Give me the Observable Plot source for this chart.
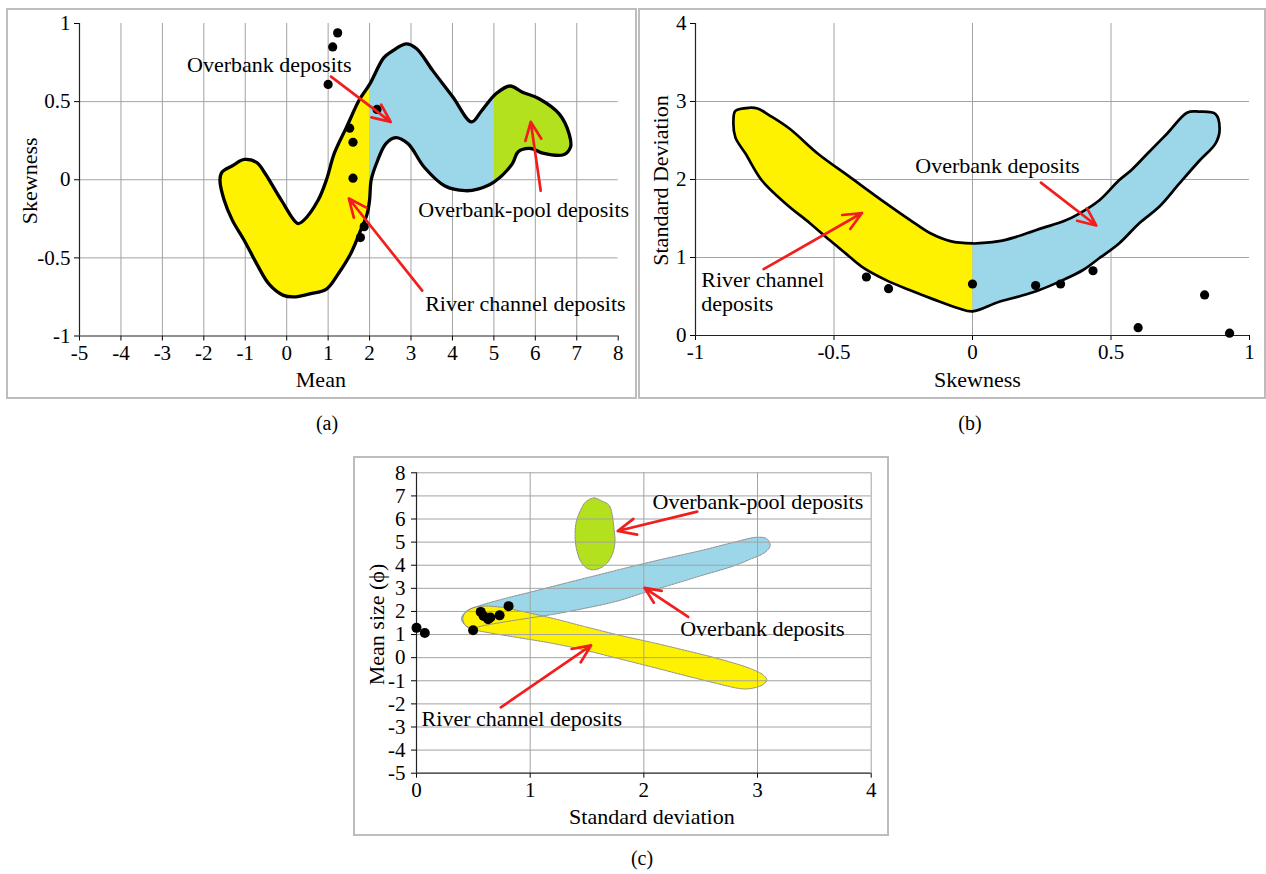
<!DOCTYPE html>
<html>
<head>
<meta charset="utf-8">
<script src="https://cdn.jsdelivr.net/npm/d3@7"></script>
<script src="https://cdn.jsdelivr.net/npm/@observablehq/plot@0.6"></script>
<style>
  body { margin: 0; background: #fff; width: 1266px; height: 874px; position: relative; overflow: hidden;
         font-family: 'Liberation Serif', 'Times New Roman', serif; color: #000; }
  .frame { position: absolute; border: 2px solid #bdbdbd; box-sizing: border-box; }
  .panel { position: absolute; }
  .caption { position: absolute; font-size: 20px; transform: translate(-50%, -50%); }
</style>
</head>
<body>
<div class="frame" style="left:6px;top:8px;width:631px;height:391px"></div>
<div class="frame" style="left:638px;top:8px;width:628px;height:391px"></div>
<div class="frame" style="left:353px;top:456px;width:536px;height:380px"></div>
<div id="pa" class="panel" style="left:0px;top:0px"></div>
<div id="pb" class="panel" style="left:638px;top:0px"></div>
<div id="pc" class="panel" style="left:352px;top:450px"></div>
<div class="caption" style="left:327px;top:423px">(a)</div>
<div class="caption" style="left:970px;top:423px">(b)</div>
<div class="caption" style="left:642px;top:858px">(c)</div>
<script>
// ---------- (a) Skewness against mean ----------
const meanTicks = [-5, -4, -3, -2, -1, 0, 1, 2, 3, 4, 5, 6, 7, 8];
const meanGrid = [-4, -3, -2, -1, 0, 1, 2, 3, 4, 5, 6, 7];
const skewTicksA = [-1, -0.5, 0, 0.5, 1];
const skewGridA = [-0.5, 0, 0.5];

// envelope of all samples, split by mean into the three depositional fields
const envelopeA = [
  [-1.61, 0.00], [-1.56, 0.05], [-1.31, 0.09], [-1.02, 0.13], [-0.72, 0.11], [-0.52, 0.04],
  [-0.13, -0.13], [0.27, -0.28], [0.41, -0.26], [0.76, -0.13], [0.96, 0.00], [1.15, 0.17],
  [1.45, 0.34], [1.75, 0.51], [2.00, 0.61], [2.34, 0.78], [2.53, 0.82], [2.88, 0.87],
  [3.13, 0.84], [3.52, 0.70], [4.01, 0.53], [4.46, 0.37], [4.70, 0.44], [5.05, 0.55],
  [5.39, 0.60], [5.69, 0.56], [6.08, 0.52], [6.58, 0.42], [6.82, 0.29], [6.85, 0.21],
  [6.68, 0.16], [6.18, 0.17], [5.89, 0.20], [5.59, 0.18], [5.44, 0.10], [5.00, -0.015],
  [4.61, -0.06], [4.31, -0.07], [3.82, -0.04], [3.32, 0.08], [2.93, 0.23], [2.63, 0.27],
  [2.39, 0.23], [2.19, 0.12], [2.04, 0.00], [2.00, -0.13], [1.94, -0.22], [1.79, -0.32],
  [1.55, -0.47], [1.25, -0.60], [0.96, -0.70], [0.56, -0.73], [0.17, -0.75], [-0.08, -0.74],
  [-0.42, -0.67], [-0.72, -0.54], [-1.02, -0.39], [-1.31, -0.26], [-1.51, -0.13]
];
const zonesA = [
  {name: "River channel deposits", from: null, to: 2, color: "#fff200"},
  {name: "Overbank deposits", from: 2, to: 5, color: "#9cd7e9"},
  {name: "Overbank-pool deposits", from: 5, to: null, color: "#b4e11e"}
];
const samplesA = [
  [1.00, 0.61], [1.11, 0.85], [1.23, 0.94], [2.18, 0.45], [1.52, 0.33],
  [1.60, 0.24], [1.60, 0.01], [1.87, -0.30], [1.78, -0.37]
];
const labelsA = [
  {label: "Overbank deposits", x: -0.42, y: 0.742},
  {label: "Overbank-pool deposits", x: 5.72, y: -0.186},
  {label: "River channel deposits", x: 5.76, y: -0.793}
];
const arrowsA = [
  {x1: 1.07, y1: 0.66, x2: 2.51, y2: 0.37},
  {x1: 3.27, y1: -0.71, x2: 1.50, y2: -0.12},
  {x1: 6.13, y1: -0.07, x2: 5.89, y2: 0.37}
];

// ---------- (b) Standard deviation against skewness ----------
const skewTicksB = [-1, -0.5, 0, 0.5, 1];
const skewGridB = [-0.5, 0, 0.5];
const sdTicksB = [0, 1, 2, 3, 4];
const sdGridB = [1, 2, 3];
const envelopeB = [
  [-0.863, 2.76], [-0.856, 2.88], [-0.805, 2.92], [-0.776, 2.91], [-0.732, 2.82], [-0.660, 2.65],
  [-0.558, 2.33], [-0.442, 2.03], [-0.326, 1.73], [-0.225, 1.48], [-0.152, 1.31], [-0.080, 1.21],
  [0.000, 1.18], [0.051, 1.19], [0.123, 1.23], [0.196, 1.31], [0.254, 1.38], [0.326, 1.46],
  [0.384, 1.56], [0.457, 1.73], [0.529, 1.99], [0.573, 2.12], [0.631, 2.33], [0.703, 2.59],
  [0.776, 2.86], [0.819, 2.87], [0.877, 2.84], [0.892, 2.63], [0.877, 2.46], [0.819, 2.24],
  [0.747, 1.95], [0.674, 1.65], [0.602, 1.44], [0.529, 1.18], [0.457, 0.99], [0.399, 0.84],
  [0.326, 0.71], [0.239, 0.58], [0.167, 0.50], [0.094, 0.43], [0.000, 0.31], [-0.051, 0.35],
  [-0.138, 0.46], [-0.225, 0.58], [-0.312, 0.71], [-0.399, 0.88], [-0.457, 1.05], [-0.515, 1.22],
  [-0.587, 1.44], [-0.674, 1.69], [-0.761, 1.99], [-0.819, 2.33], [-0.856, 2.54]
];
const zonesB = [
  {name: "River channel deposits", from: null, to: 0, color: "#fff200"},
  {name: "Overbank deposits", from: 0, to: null, color: "#9cd7e9"}
];
const samplesB = [
  [-0.383, 0.75], [-0.303, 0.60], [0.000, 0.66], [0.228, 0.64], [0.318, 0.66],
  [0.435, 0.83], [0.598, 0.10], [0.838, 0.52], [0.928, 0.03]
];
const labelsB = [
  {label: "Overbank deposits", x: 0.09, y: 2.18, anchor: "middle"},
  {label: "River channel\ndeposits", x: -0.979, y: 0.565, anchor: "start"}
];
const arrowsB = [
  {x1: 0.247, y1: 1.96, x2: 0.447, y2: 1.41},
  {x1: -0.754, y1: 0.85, x2: -0.399, y2: 1.57}
];

// ---------- (c) Mean size against standard deviation ----------
const sdTicksC = [0, 1, 2, 3, 4];
const sdGridC = [1, 2, 3, 4];
const sizeTicksC = [-5, -4, -3, -2, -1, 0, 1, 2, 3, 4, 5, 6, 7, 8];
const sizeGridC = [-4, -3, -2, -1, 0, 1, 2, 3, 4, 5, 6, 7, 8];
const poolFieldC = [
  [1.488, 6.74], [1.561, 6.91], [1.635, 6.77], [1.693, 6.60], [1.722, 6.17], [1.737, 5.60],
  [1.746, 5.03], [1.722, 4.46], [1.664, 4.03], [1.576, 3.81], [1.503, 3.86], [1.444, 4.17],
  [1.406, 4.74], [1.395, 5.31], [1.406, 5.89], [1.444, 6.39]
];
const overbankFieldC = [
  [0.396, 1.72], [0.439, 2.01], [0.542, 2.23], [0.746, 2.52], [1.038, 2.88], [1.330, 3.25],
  [1.622, 3.61], [1.914, 3.97], [2.206, 4.31], [2.498, 4.63], [2.790, 4.99], [2.994, 5.21],
  [3.082, 5.14], [3.111, 4.85], [3.067, 4.56], [2.936, 4.26], [2.790, 3.97], [2.498, 3.54],
  [2.206, 3.10], [2.001, 2.81], [1.768, 2.45], [1.476, 2.13], [1.184, 1.86], [0.892, 1.64],
  [0.600, 1.40], [0.469, 1.28], [0.410, 1.50]
];
const riverFieldC = [
  [0.410, 1.79], [0.483, 2.13], [0.600, 2.23], [0.746, 2.18], [0.892, 2.04], [1.184, 1.72],
  [1.476, 1.35], [1.768, 0.99], [2.060, 0.67], [2.352, 0.33], [2.644, -0.03], [2.936, -0.47],
  [3.053, -0.76], [3.082, -0.98], [3.038, -1.19], [2.936, -1.34], [2.848, -1.34], [2.644, -1.12],
  [2.352, -0.76], [2.060, -0.39], [1.768, -0.03], [1.476, 0.33], [1.184, 0.63], [0.892, 0.87],
  [0.658, 1.06], [0.512, 1.21], [0.425, 1.43]
];
const samplesC = [
  [0.000, 1.29], [0.073, 1.07], [0.498, 1.19], [0.565, 1.98], [0.590, 1.80],
  [0.630, 1.66], [0.650, 1.74], [0.731, 1.83], [0.810, 2.23]
];
const labelsC = [
  {label: "Overbank-pool deposits", x: 2.076, y: 6.75},
  {label: "Overbank deposits", x: 2.32, y: 1.29},
  {label: "River channel deposits", x: 0.045, y: -2.62}
];
const arrowsC = [
  {x1: 2.47, y1: 6.32, x2: 1.77, y2: 5.48},
  {x1: 2.39, y1: 1.76, x2: 2.006, y2: 3.02},
  {x1: 0.742, y1: -2.15, x2: 1.536, y2: 0.53}
];

// ---------- shared styling ----------
const serif = "'Liberation Serif', 'Times New Roman', serif";
const fmt = (d) => String(d);
const gridColor = "#a3a3a3";
const arrowColor = "#f21d1d";
const svgStyle = {fontFamily: serif, fontSize: "21px", color: "#000", background: "transparent", overflow: "visible"};
const axis = {tickFormat: fmt, tickSize: 5, tickPadding: 4, label: null};
const closed = "catmull-rom-closed";
const ns = "http://www.w3.org/2000/svg";

// one fill of the envelope, clipped to the band [from, to] of the x scale
function zoneFill(outline, zone, id) {
  return Plot.line(outline, {
    curve: closed, fill: zone.color, stroke: "none",
    render(index, scales, values, dimensions, context, next) {
      const g = next(index, scales, values, dimensions, context);
      const x0 = zone.from == null ? 0 : scales.x(zone.from);
      const x1 = zone.to == null ? dimensions.width : scales.x(zone.to);
      const cp = document.createElementNS(ns, "clipPath");
      cp.setAttribute("id", id);
      const r = document.createElementNS(ns, "rect");
      r.setAttribute("x", x0);
      r.setAttribute("y", 0);
      r.setAttribute("width", x1 - x0);
      r.setAttribute("height", dimensions.height);
      cp.appendChild(r);
      g.insertBefore(cp, g.firstChild);
      g.setAttribute("clip-path", `url(#${id})`);
      return g;
    }
  });
}
function arrows(data, width) {
  return Plot.arrow(data, {x1: "x1", y1: "y1", x2: "x2", y2: "y2", stroke: arrowColor,
    strokeWidth: width, headLength: 11, headAngle: 48});
}
function notes(data, anchor) {
  return Plot.text(data, {x: "x", y: "y", text: "label", fontSize: 22, lineHeight: 1.1,
    textAnchor: anchor, fill: "#000"});
}
function xTitle(text, dx, dy) {
  return Plot.text([text], {frameAnchor: "bottom", textAnchor: "middle", lineAnchor: "middle",
    dx, dy, fontSize: 22, fill: "#000"});
}
function yTitle(text, dx, dy) {
  return Plot.text([text], {frameAnchor: "left", textAnchor: "middle", lineAnchor: "middle",
    rotate: -90, dx, dy, fontSize: 22, fill: "#000"});
}

// ---------- panel (a) ----------
const chartA = Plot.plot({
  width: 640, height: 400,
  marginLeft: 79, marginRight: 22.3, marginTop: 23, marginBottom: 64.5,
  style: svgStyle,
  x: {domain: [-5, 8], ticks: meanTicks, ...axis},
  y: {domain: [-1, 1], ticks: skewTicksA, ...axis},
  marks: [
    Plot.ruleX(meanGrid, {stroke: gridColor, strokeWidth: 1}),
    Plot.ruleY(skewGridA, {stroke: gridColor, strokeWidth: 1}),
    ...zonesA.map((z, i) => zoneFill(envelopeA, z, "zone-a-" + i)),
    Plot.line(envelopeA, {curve: closed, stroke: "#000", strokeWidth: 3.3, fill: "none"}),
    Plot.ruleX([-5], {stroke: "#222", strokeWidth: 1.2}),
    Plot.ruleY([-1], {stroke: "#222", strokeWidth: 1.2}),
    Plot.dot(samplesA, {r: 4.6, fill: "#000", stroke: "none"}),
    arrows(arrowsA, 2.7),
    notes(labelsA, "middle"),
    xTitle("Mean", -28, 44),
    yTitle("Skewness", -50, 1)
  ]
});
document.getElementById("pa").appendChild(chartA);

// ---------- panel (b) ----------
const chartB = Plot.plot({
  width: 628, height: 400,
  marginLeft: 57, marginRight: 17, marginTop: 23, marginBottom: 65,
  style: svgStyle,
  x: {domain: [-1, 1], ticks: skewTicksB, ...axis},
  y: {domain: [0, 4], ticks: sdTicksB, ...axis},
  marks: [
    Plot.ruleX(skewGridB, {stroke: gridColor, strokeWidth: 1}),
    Plot.ruleY(sdGridB, {stroke: gridColor, strokeWidth: 1}),
    ...zonesB.map((z, i) => zoneFill(envelopeB, z, "zone-b-" + i)),
    Plot.line(envelopeB, {curve: closed, stroke: "#000", strokeWidth: 2.7, fill: "none"}),
    Plot.ruleX([-1], {stroke: "#222", strokeWidth: 1.2}),
    Plot.ruleY([0], {stroke: "#222", strokeWidth: 1.2}),
    Plot.dot(samplesB, {r: 4.6, fill: "#000", stroke: "none"}),
    arrows(arrowsB, 2.7),
    notes(labelsB.filter((d) => d.anchor === "middle"), "middle"),
    notes(labelsB.filter((d) => d.anchor === "start"), "start"),
    xTitle("Skewness", 5, 44),
    yTitle("Standard Deviation", -35, 1)
  ]
});
document.getElementById("pb").appendChild(chartB);

// ---------- panel (c) ----------
const fieldStroke = {stroke: "#8c8c8c", strokeWidth: 1, strokeDasharray: "2,1", fill: "none", curve: closed};
const chartC = Plot.plot({
  width: 540, height: 390,
  marginLeft: 64, marginRight: 21.3, marginTop: 22.3, marginBottom: 67.3,
  style: svgStyle,
  x: {domain: [0, 4], ticks: sdTicksC, ...axis},
  y: {domain: [-5, 8], ticks: sizeTicksC, ...axis, tickPadding: 6},
  marks: [
    Plot.line(poolFieldC, {curve: closed, fill: "#b4e11e", stroke: "none"}),
    Plot.line(poolFieldC, fieldStroke),
    Plot.line(overbankFieldC, {curve: closed, fill: "#9cd7e9", stroke: "none"}),
    Plot.line(riverFieldC, {curve: closed, fill: "#fff200", stroke: "none"}),
    Plot.line(overbankFieldC, fieldStroke),
    Plot.line(riverFieldC, fieldStroke),
    Plot.ruleX(sdGridC, {stroke: gridColor, strokeWidth: 1}),
    Plot.ruleY(sizeGridC, {stroke: gridColor, strokeWidth: 1}),
    Plot.ruleX([0], {stroke: "#222", strokeWidth: 1.2}),
    Plot.ruleY([-5], {stroke: "#222", strokeWidth: 1.2}),
    Plot.dot(samplesC, {r: 5, fill: "#000", stroke: "none"}),
    arrows(arrowsC, 2.7),
    notes(labelsC, "start"),
    xTitle("Standard deviation", 8, 44),
    yTitle("Mean size (ϕ)", -40, 1.5)
  ]
});
document.getElementById("pc").appendChild(chartC);
</script>
</body>
</html>
